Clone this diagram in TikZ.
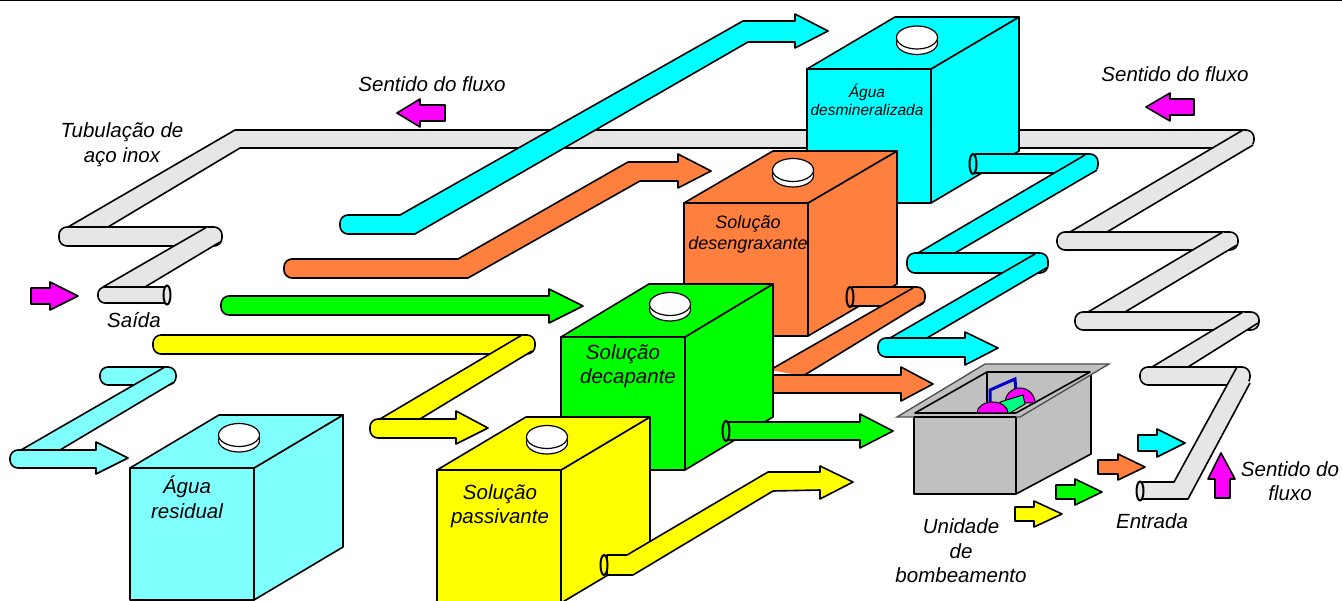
\documentclass[tikz,border=0pt]{standalone}
\usepackage{fontspec}
\setmainfont{Liberation Sans}
\definecolor{cCyan}{HTML}{00FFFF}
\definecolor{cLight}{HTML}{80FFFF}
\definecolor{cOrange}{HTML}{FF7F3F}
\definecolor{cGreen}{HTML}{00FF00}
\definecolor{cYellow}{HTML}{FFFF00}
\definecolor{cGray}{HTML}{E6E6E6}
\definecolor{cBox}{HTML}{C0C0C0}
\definecolor{cMag}{HTML}{FF00FF}
\definecolor{cTeal}{HTML}{00FF80}
\tikzset{
  edge/.style={draw=black,line width=1.6pt,line join=round},
  lab/.style={align=center,inner sep=0pt,font=\itshape\fontsize{20.5}{24.5}\selectfont},
  labm/.style={align=center,inner sep=0pt,font=\itshape\fontsize{18}{21.5}\selectfont},
  labs/.style={align=center,inner sep=0pt,font=\itshape\fontsize{15.5}{18.5}\selectfont},
}
% horizontal capsule
\newcommand\hcap[5]{\draw[edge,fill=#1,rounded corners=8pt] (#2,#4) rectangle (#3,#5);}
% diagonal: upper edge a-b, lower edge c-d
\newcommand\diag[5]{\fill[#1] #2--#3--#5--#4--cycle; \draw[edge] #2--#3 #4--#5;}
% straight block arrow: colour, tail x, head x, tip x, centre y, shaft half, head half
\newcommand\flow[7]{\draw[edge,fill=#1] (#2,#5-#6)--(#3,#5-#6)--(#3,#5-#7)--(#4,#5)--(#3,#5+#7)--(#3,#5+#6)--(#2,#5+#6)--cycle;}
% tank: colour, xl, xr, ytop, ybot, dx, dy
\newcommand\tank[7]{%
  \draw[edge,fill=#1] (#2,#4) rectangle (#3,#5);
  \draw[edge,fill=#1] (#3,#4)--(#3+#6,#4-#7)--(#3+#6,#5-#7)--(#3,#5)--cycle;
  \draw[edge,fill=#1] (#2,#4)--(#2+#6,#4-#7)--(#3+#6,#4-#7)--(#3,#4)--cycle;}
\newcommand\lid[2]{%
  \draw[line width=1.2pt,fill=white] (#1,#2+5.5) ellipse [x radius=20.5,y radius=11.5];
  \draw[line width=1.2pt,fill=white] (#1,#2) ellipse [x radius=20.5,y radius=11.5];}
\newcommand\pipeend[4]{\draw[line width=2pt,fill=#1] (#2,#3) ellipse [x radius=3.5,y radius=#4];}
\begin{document}
\begin{tikzpicture}[x=1pt,y=-1pt]
\useasboundingbox (0,0) rectangle (1342,601);
\clip (0,0) rectangle (1342,601);
\fill[white] (0,0) rectangle (1342,601);
\draw[black,line width=2pt] (0,0.5)--(1342,0.5);

% ---- stainless steel line, back of everything
\draw[edge,fill=cGray] (68,227)--(235,130)--(1244,130) [rounded corners=8pt] --(1254,130)--(1254,148)[sharp corners]--(240,148)--(108,227);
\hcap{cGray}{59}{222}{227}{246}
\diag{cGray}{(207,227)}{(103,287)}{(220,242)}{(145,287)}
\draw[edge,fill=cGray,rounded corners=7pt] (168,287)--(98,287)--(98,303)--(168,303);
\pipeend{cGray}{167}{295}{9.5}
\diag{cGray}{(1243,130)}{(1070,232)}{(1253,145)}{(1107,232)}
\hcap{cGray}{1057}{1238}{232}{250}
\diag{cGray}{(1223,232)}{(1088,312)}{(1237,245)}{(1125,312)}
\hcap{cGray}{1075}{1259}{312}{330}
\diag{cGray}{(1243,312)}{(1152,367)}{(1258,323)}{(1188,367)}
\hcap{cGray}{1140}{1250}{367}{385}
\fill[cGray] (1237,367)--(1250,383)--(1188,499)--(1140,499)--(1140,482)--(1174,482)--cycle;
\draw[edge] (1237,367)--(1174,482)--(1142,482);
\draw[edge] (1250,383)--(1188,499)--(1142,499);
\pipeend{cGray}{1140}{491}{9.5}

% ---- delivery lines toward the tanks
\draw[edge,fill=cCyan] (828,31)--(795,48)--(795,42)--(748,42)--(415,234)--(348,234)[rounded corners=8pt]--(340,234)--(340,215)[sharp corners]--(400,215)--(743,21)--(795,21)--(795,14)--cycle;
\draw[edge,fill=cOrange] (711,171)--(678,188)--(678,181)--(640,181)--(468,278)--(292,278)[rounded corners=8pt]--(284,278)--(284,259)[sharp corners]--(458,259)--(628,162)--(678,162)--(678,154)--cycle;

% ---- demineralised water tank
\tank{cCyan}{807}{931}{69}{203}{88}{52}
\lid{917}{37.5}
\node[labs] (agua1) at (867,100) {Água\\desmineralizada};
\draw[edge,fill=cCyan,rounded corners=8pt] (975,154)--(1098,154)--(1098,173)--(975,173);
\pipeend{cCyan}{973}{164}{10}
\diag{cCyan}{(1085,155)}{(918,253)}{(1097,170)}{(955,253)}
\hcap{cCyan}{907}{1048}{253}{273}
\diag{cCyan}{(1035,254)}{(890,338)}{(1048,267)}{(927,338)}
\draw[edge,fill=cCyan] (998,348)--(965,365)--(965,357)--(886,357)[rounded corners=8pt]--(878,357)--(878,338)[sharp corners]--(965,338)--(965,332)--cycle;

% ---- degreasing tank
\tank{cOrange}{684}{808}{203}{336}{89}{52}
\lid{793}{170}
\node[labm] (orange1) at (748,234.5) {Solução\\desengraxante};
\draw[edge,fill=cOrange,rounded corners=8pt] (852,287)--(925,287)--(925,306)--(852,306);
\pipeend{cOrange}{850}{297}{10}
\diag{cOrange}{(913,288)}{(770,370)}{(924,302)}{(803,376)}
\flow{cOrange}{770}{901}{933}{384}{9}{17}

% ---- pickling line and tank
\draw[edge,fill=cGreen] (583,306)--(549,323)--(549,315)--(229,315)[rounded corners=8pt]--(221,315)--(221,296)[sharp corners]--(549,296)--(549,289)--cycle;
\hcap{cYellow}{153}{535}{335}{354}
\diag{cYellow}{(522,335)}{(380,419)}{(532,351)}{(420,419)}
\draw[edge,fill=cYellow] (488,428)--(456,444)--(456,438)--(378,438)[rounded corners=8pt]--(370,438)--(370,419)[sharp corners]--(456,419)--(456,411)--cycle;
\tank{cGreen}{561}{685}{337}{470}{88}{53}
\lid{670}{304}
\node[lab] (green1a) at (623,354) {Solução};
\node[lab] (green1b) at (628,378) {decapante};
\flow{cGreen}{728}{860}{893}{431}{9}{17}
\pipeend{cGreen}{726}{431}{10}

% ---- passivating tank
\tank{cYellow}{437}{561}{470}{603}{89}{53}
\lid{547}{437}
\node[lab] (yellow1) at (500,506) {Solução\\passivante};
\draw[edge,fill=cYellow] (853,482)--(820,499)--(820,490)--(773,491)--(633,575)--(607,575)--(607,555)--(627,555)--(768,472)--(820,472)--(820,466)--cycle;
\pipeend{cYellow}{604}{565}{10}

% ---- residual water tank
\hcap{cLight}{100}{176}{367}{385}
\diag{cLight}{(165,367)}{(21,450)}{(174,382)}{(60,450)}
\draw[edge,fill=cLight] (128,458)--(96,474)--(96,468)--(18,468)[rounded corners=8pt]--(10,468)--(10,450)[sharp corners]--(96,450)--(96,442)--cycle;
\tank{cLight}{130}{254}{468}{600}{89}{53}
\lid{239}{435}
\node[lab] (water1) at (187,497) {Água\\residual};

% ---- pump unit
\draw[edge,fill=cBox] (914,417) rectangle (1016,494);
\draw[edge,fill=cBox] (1016,417)--(1091,372)--(1091,454)--(1016,494)--cycle;
\draw[draw=black!70,line width=1.3pt,fill=cBox] (897,417)--(985,364)--(1109,364)--(1020,417)--cycle;
\draw[edge,fill=cBox] (915,413)--(987,372)--(1090,372)--(1016,413)--cycle;
\draw[black,line width=1.6pt] (987,372)--(987,402);
\draw[blue!80!black,line width=3pt] (990,403)--(990,390)--(1015,379)--(1016,392);
\draw[black,line width=1pt,fill=cMag] (1005,403) arc [start angle=180,end angle=360,x radius=15,y radius=15] -- cycle;
\draw[black,line width=1pt,fill=cTeal] (1000,402)--(1023,395)--(1025,404)--(1010,413)--(1006,413)--cycle;
\draw[black,line width=1pt,fill=cMag] (977,413) arc [start angle=180,end angle=360,x radius=15.5,y radius=11] -- cycle;
\draw[black,line width=2pt] (914,417)--(1016,417);

% ---- small flow arrows
\flow{cMag}{31}{50}{78}{296}{8}{14}
\flow{cMag}{445}{420}{397}{113}{8}{14}
\flow{cMag}{1194}{1170}{1146}{107}{8}{14}
\draw[edge,fill=cMag] (1215,498)--(1215,479)--(1208,479)--(1221,453)--(1235,479)--(1230,479)--(1230,498)--cycle;
\flow{cCyan}{1138}{1157}{1185}{443}{8}{14}
\flow{cOrange}{1098}{1118}{1145}{467}{7}{13}
\flow{cGreen}{1056}{1075}{1102}{492}{7}{13}
\flow{cYellow}{1015}{1034}{1062}{514}{7}{13}

% ---- labels
\node[lab] (tflux1) at (432,84) {Sentido do fluxo};
\node[lab] (tflux2) at (1175,74) {Sentido do fluxo};
\node[lab] (tflux3) at (1290,481) {Sentido do\\fluxo};
\node[lab] (tinox) at (122,144.5) {Tubulação de\\aço inox};
\node[lab] (tsaida) at (134,320) {Saída};
\node[lab] (tentrada) at (1152,521) {Entrada};
\node[lab] (tunidade) at (961,551) {Unidade\\de\\bombeamento};
\end{tikzpicture}
\end{document}
